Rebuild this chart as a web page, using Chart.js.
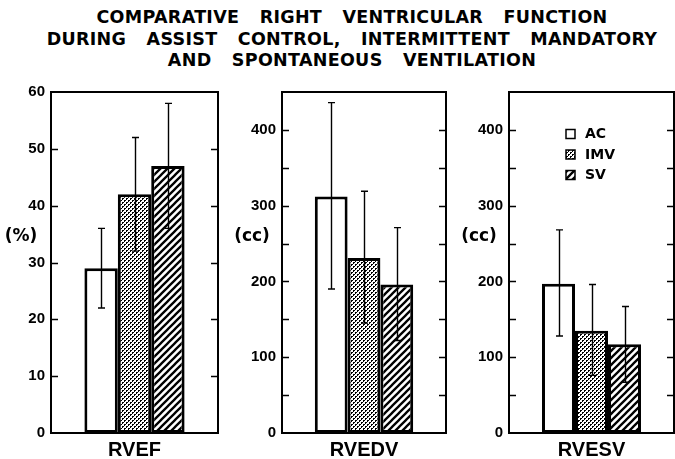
<!DOCTYPE html>
<html><head><meta charset="utf-8">
<script src="https://cdn.jsdelivr.net/npm/chart.js@4/dist/chart.umd.min.js"></script>
<style>
html,body{margin:0;padding:0;background:#fff;width:675px;height:459px;overflow:hidden;}
#title{position:absolute;left:22px;top:7px;width:660px;text-align:center;font:bold 17.5px "DejaVu Sans",sans-serif;letter-spacing:0.3px;word-spacing:14px;line-height:21.7px;color:#000;}
canvas{position:absolute;top:0;}
</style></head>
<body>
<div id="title">COMPARATIVE RIGHT VENTRICULAR FUNCTION<br>DURING ASSIST CONTROL, INTERMITTENT MANDATORY<br>AND SPONTANEOUS VENTILATION</div>
<canvas id="c1" width="222" height="459" style="left:0px"></canvas>
<canvas id="c2" width="219" height="459" style="left:231px"></canvas>
<canvas id="c3" width="217" height="459" style="left:458px"></canvas>
<script>
// ---- data ----
const conditions = ['AC', 'IMV', 'SV'];
const panelNames = ['RVEF', 'RVEDV', 'RVESV'];
const unitLabels = ['(%)', '(cc)', '(cc)'];

const rvefMean  = [29, 42, 47];
const rvefLow   = [22, 32, 36];
const rvefHigh  = [36, 52, 58];

const rvedvMean = [312, 231, 196];
const rvedvLow  = [190, 145, 122];
const rvedvHigh = [436, 319, 271];

const rvesvMean = [197, 135, 117];
const rvesvLow  = [128, 76, 67];
const rvesvHigh = [268, 196, 167];

const axisMax   = [60, 450, 450];
const axisStep  = [10, 50, 50];
const labelStep = [10, 100, 100];

// ---- patterns ----
function dotPattern() {
  const c = document.createElement('canvas'); c.width = 4; c.height = 4;
  const x = c.getContext('2d');
  x.fillStyle = '#fff'; x.fillRect(0, 0, 4, 4);
  x.fillStyle = '#000';
  x.fillRect(0, 0, 2, 1); x.fillRect(0, 1, 1, 1);
  x.fillRect(2, 2, 2, 1); x.fillRect(2, 3, 1, 1);
  return x.createPattern(c, 'repeat');
}
function hatchPattern() {
  const s = 7;
  const c = document.createElement('canvas'); c.width = s; c.height = s;
  const x = c.getContext('2d');
  x.fillStyle = '#fff'; x.fillRect(0, 0, s, s);
  x.strokeStyle = '#000'; x.lineWidth = 2.3;
  x.beginPath();
  x.moveTo(-1, s + 1); x.lineTo(s + 1, -1);
  x.moveTo(-s / 2 - 1, s / 2 + 1); x.lineTo(s / 2 + 1, -s / 2 - 1);
  x.moveTo(s / 2 - 1, s * 1.5 + 1); x.lineTo(s * 1.5 + 1, s / 2 - 1);
  x.stroke();
  return x.createPattern(c, 'repeat');
}
const fills = ['#ffffff', dotPattern(), hatchPattern()];

const FONT = '"Liberation Sans", Arial, sans-serif';
const FONT2 = '"DejaVu Sans", sans-serif';

// ---- plugins ----
const framePlugin = {
  id: 'frame',
  afterDraw(chart) {
    const { ctx, chartArea: a } = chart;
    const ys = chart.scales.y;
    ctx.save();
    ctx.strokeStyle = '#000';
    ctx.lineWidth = 1.6;
    ys.ticks.forEach(t => {
      if (t.value <= ys.min || t.value >= ys.max) return;
      const y = Math.round(ys.getPixelForValue(t.value)) + 0.5;
      ctx.beginPath();
      ctx.moveTo(a.left, y); ctx.lineTo(a.left + 7, y);
      ctx.moveTo(a.right - 7, y); ctx.lineTo(a.right, y);
      ctx.stroke();
    });
    ctx.lineWidth = 2;
    ctx.strokeRect(a.left, a.top, a.right - a.left, a.bottom - a.top);
    const o = chart.options.plugins.frame;
    ctx.fillStyle = '#000';
    ctx.font = 'bold 17px ' + FONT2;
    ctx.textAlign = 'center';
    ctx.textBaseline = 'middle';
    ctx.fillText(o.unit, a.left - 30, a.bottom - 0.575 * (a.bottom - a.top));
    ctx.restore();
  }
};

const errorPlugin = {
  id: 'errbars',
  afterDatasetsDraw(chart) {
    const { ctx } = chart;
    const ys = chart.scales.y;
    const o = chart.options.plugins.errbars;
    ctx.save();
    ctx.strokeStyle = '#000';
    ctx.lineWidth = 1.4;
    chart.data.datasets.forEach((ds, i) => {
      const meta = chart.getDatasetMeta(i);
      meta.data.forEach((el) => {
        const x = Math.round(el.x) + 0.5;
        const yl = ys.getPixelForValue(o.low[i]);
        const yh = ys.getPixelForValue(o.high[i]);
        ctx.beginPath();
        ctx.moveTo(x, yl); ctx.lineTo(x, yh);
        ctx.moveTo(x - 3.5, yl); ctx.lineTo(x + 3.5, yl);
        ctx.moveTo(x - 3.5, yh); ctx.lineTo(x + 3.5, yh);
        ctx.stroke();
      });
    });
    ctx.restore();
  }
};

const legendPlugin = {
  id: 'insideLegend',
  afterDraw(chart) {
    const o = chart.options.plugins.insideLegend;
    if (!o || !o.show) return;
    const { ctx, chartArea: a } = chart;
    ctx.save();
    ctx.font = 'bold 14px ' + FONT2;
    ctx.textBaseline = 'middle';
    ctx.textAlign = 'left';
    chart.data.datasets.forEach((ds, i) => {
      const bx = a.left + 57, cy = a.top + 42 + i * 20.5;
      ctx.fillStyle = ds.backgroundColor;
      ctx.fillRect(bx, cy - 4.5, 9, 9);
      ctx.strokeStyle = '#000'; ctx.lineWidth = 1.5;
      ctx.strokeRect(bx, cy - 4.5, 9, 9);
      ctx.fillStyle = '#000';
      ctx.fillText(ds.label, bx + 19, cy + 0.5);
    });
    ctx.restore();
  }
};

function makePanel(id, idx, means, lows, highs, rightPad) {
  const datasets = conditions.map((c, i) => ({
    label: c,
    data: [means[i]],
    backgroundColor: fills[i],
    borderColor: '#000',
    borderWidth: 3,
    borderSkipped: false,
    categoryPercentage: 0.6,
    barPercentage: 1.0
  }));
  return new Chart(document.getElementById(id), {
    type: 'bar',
    data: { labels: [panelNames[idx]], datasets },
    options: {
      responsive: false,
      animation: false,
      layout: { padding: { top: 92, right: rightPad, left: 0, bottom: 0 } },
      plugins: {
        legend: { display: false },
        tooltip: { enabled: false },
        frame: { unit: unitLabels[idx] },
        errbars: { low: lows, high: highs },
        insideLegend: { show: idx === 2 }
      },
      scales: {
        x: {
          grid: { display: false, drawTicks: false },
          border: { display: false },
          ticks: { color: '#000', font: { family: FONT, size: 20, weight: 'bold' }, padding: 5 },
          afterFit(s) { s.height = 26; }
        },
        y: {
          min: 0, max: axisMax[idx],
          grid: { display: false, drawTicks: false },
          border: { display: false },
          ticks: {
            stepSize: axisStep[idx],
            color: '#000',
            padding: 6,
            font: { family: FONT, size: 15, weight: 'bold' },
            callback: v => (v % labelStep[idx] === 0 && v <= (axisMax[idx] - axisMax[idx] % labelStep[idx])) ? v : ''
          },
          afterFit(s) { s.width = 51; }
        }
      }
    },
    plugins: [framePlugin, errorPlugin, legendPlugin]
  });
}

makePanel('c1', 0, rvefMean, rvefLow, rvefHigh, 4);
makePanel('c2', 1, rvedvMean, rvedvLow, rvedvHigh, 4);
makePanel('c3', 2, rvesvMean, rvesvLow, rvesvHigh, 1);
</script>
</body></html>
